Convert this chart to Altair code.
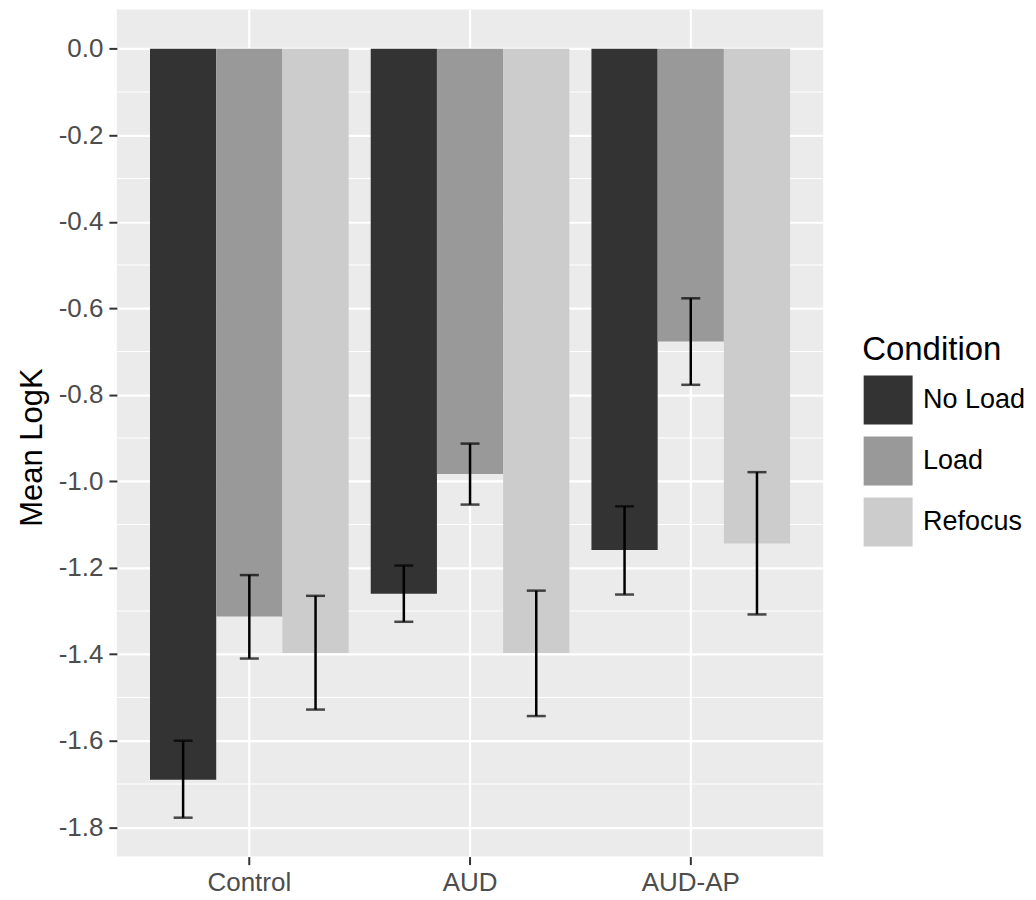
import altair as alt
import pandas as pd

groups = ["Control", "AUD", "AUD-AP"]
conditions = ["No Load", "Load", "Refocus"]
colors = ["#333333", "#999999", "#CCCCCC"]

# mean LogK per group, in condition order (No Load, Load, Refocus)
means_control = [-1.69, -1.313, -1.397]
means_aud = [-1.260, -0.983, -1.397]
means_audap = [-1.159, -0.677, -1.144]

lo_control = [-1.778, -1.410, -1.528]
hi_control = [-1.600, -1.217, -1.265]
lo_aud = [-1.325, -1.054, -1.543]
hi_aud = [-1.195, -0.913, -1.253]
lo_audap = [-1.262, -0.777, -1.308]
hi_audap = [-1.058, -0.577, -0.979]

y_ticks = [0.0, -0.2, -0.4, -0.6, -0.8, -1.0, -1.2, -1.4, -1.6, -1.8]
y_minor = [-0.1, -0.3, -0.5, -0.7, -0.9, -1.1, -1.3, -1.5, -1.7]

rows = []
for g, m, lo, hi in [
    ("Control", means_control, lo_control, hi_control),
    ("AUD", means_aud, lo_aud, hi_aud),
    ("AUD-AP", means_audap, lo_audap, hi_audap),
]:
    for c, mv, l, h in zip(conditions, m, lo, hi):
        rows.append({"Group": g, "Condition": c, "value": mv, "lo": l, "hi": h})
df = pd.DataFrame(rows)
minor_df = pd.DataFrame({"value": y_minor})

FONT = "Liberation Sans"
yscale = alt.Scale(domain=[-1.868, 0.091], nice=False, zero=False)
yaxis = alt.Axis(
    values=y_ticks,
    labelExpr="(datum.value < -0.0001 ? '-' : '') + format(abs(datum.value), '.1f')",
    grid=True, gridColor="white", gridWidth=2.2,
    domain=False, tickColor="#333333", tickSize=8, tickWidth=2,
    labelColor="#4D4D4D", labelFontSize=26, labelFont=FONT, labelPadding=6,
    title="Mean LogK", titleFontSize=31, titleFont=FONT, titleColor="black",
    titleFontWeight="normal", titlePadding=10, titleY=438,
)
xscale = alt.Scale(paddingInner=0.1, paddingOuter=0.15)
xaxis = alt.Axis(
    title=None, grid=True, gridColor="white", gridWidth=2.2, bandPosition=0.5,
    domain=False, tickColor="#333333", tickSize=8, tickWidth=2,
    labelColor="#4D4D4D", labelFontSize=26, labelFont=FONT, labelPadding=5,
    labelAngle=0,
)
xenc = alt.X("Group:N", sort=groups, scale=xscale, axis=xaxis)
xoff = alt.XOffset("Condition:N", sort=conditions, scale=alt.Scale(paddingInner=0, paddingOuter=0))

minor = alt.Chart(minor_df).mark_rule(color="white", strokeWidth=1.1).encode(
    y=alt.Y("value:Q", scale=yscale, axis=yaxis)
)

bars = alt.Chart(df).mark_bar().encode(
    x=xenc,
    xOffset=xoff,
    y=alt.Y("value:Q", scale=yscale, axis=yaxis),
    color=alt.Color(
        "Condition:N",
        sort=conditions,
        scale=alt.Scale(domain=conditions, range=colors),
        legend=alt.Legend(
            title="Condition", orient="none", legendX=746, legendY=325,
            symbolType="square", symbolSize=2550, symbolStrokeColor="white",
            symbolStrokeWidth=1.5, symbolOpacity=1,
            labelFontSize=27, labelFont=FONT, labelColor="black", labelOffset=9,
            titleFontSize=33, titleFont=FONT, titleColor="black",
            titleFontWeight="normal", titlePadding=7, rowPadding=3, padding=0,
        ),
    ),
)

err = alt.Chart(df).mark_rule(color="black", strokeWidth=2.5).encode(
    x=xenc, xOffset=xoff,
    y=alt.Y("lo:Q", scale=yscale, axis=yaxis), y2="hi:Q",
)
cap_lo = alt.Chart(df).mark_tick(color="black", thickness=2.5, size=19, orient="horizontal").encode(
    x=xenc, xOffset=xoff, y=alt.Y("lo:Q", scale=yscale, axis=yaxis)
)
cap_hi = alt.Chart(df).mark_tick(color="black", thickness=2.5, size=19, orient="horizontal").encode(
    x=xenc, xOffset=xoff, y=alt.Y("hi:Q", scale=yscale, axis=yaxis)
)

chart = (
    alt.layer(minor, bars, err, cap_lo, cap_hi)
    .properties(
        width=707, height=848,
        autosize=alt.AutoSizeParams(type="none"),
        padding={"left": 109, "top": 1, "right": 205, "bottom": 41},
        background="white",
    )
    .configure_view(fill="#EBEBEB", strokeWidth=0)
)

chart.save("out.html", embed_options={"renderer": "svg", "actions": False})
